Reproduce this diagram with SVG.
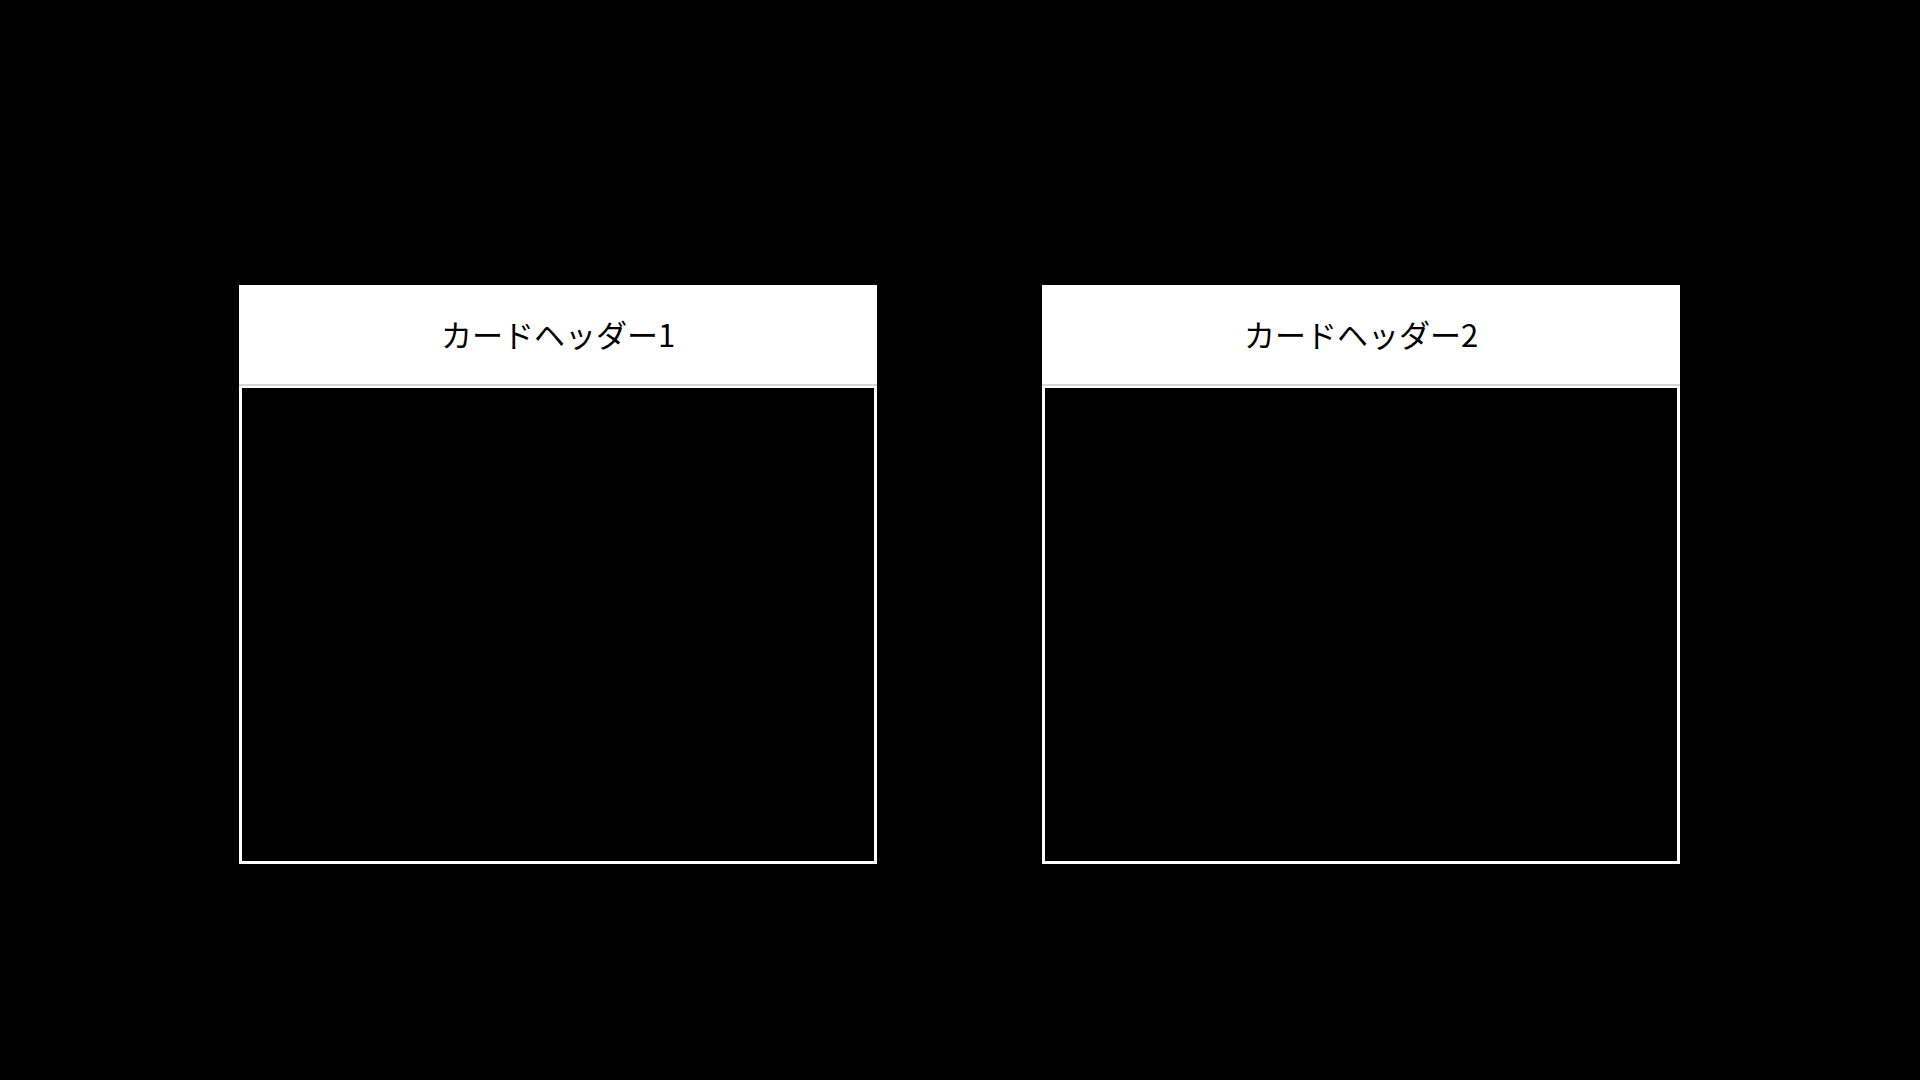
<svg xmlns="http://www.w3.org/2000/svg" width="1920" height="1080" viewBox="0 0 1920 1080">
  <style>
    .hdr { fill: #ffffff; }
    .divider { stroke: #c8c8c8; stroke-width: 1.5; }
    .body { fill: #000000; stroke: #ffffff; stroke-width: 3; }
    .title { font-family: "Noto Sans CJK JP", "Noto Sans", sans-serif; font-size: 31px; fill: #000000; text-anchor: middle; dominant-baseline: central; }
  </style>
  <rect x="0" y="0" width="1920" height="1080" fill="#000000"/>
  <g id="card1">
    <rect class="hdr" x="239" y="285" width="638" height="100"/>
    <rect class="body" x="240.5" y="386.5" width="635" height="476"/>
    <line class="divider" x1="239" y1="385" x2="877" y2="385"/>
    <text class="title" x="558" y="333">カードヘッダー1</text>
  </g>
  <g id="card2">
    <rect class="hdr" x="1042" y="285" width="638" height="100"/>
    <rect class="body" x="1043.5" y="386.5" width="635" height="476"/>
    <line class="divider" x1="1042" y1="385" x2="1680" y2="385"/>
    <text class="title" x="1361" y="333">カードヘッダー2</text>
  </g>
  <g id="connectors"/>
</svg>
